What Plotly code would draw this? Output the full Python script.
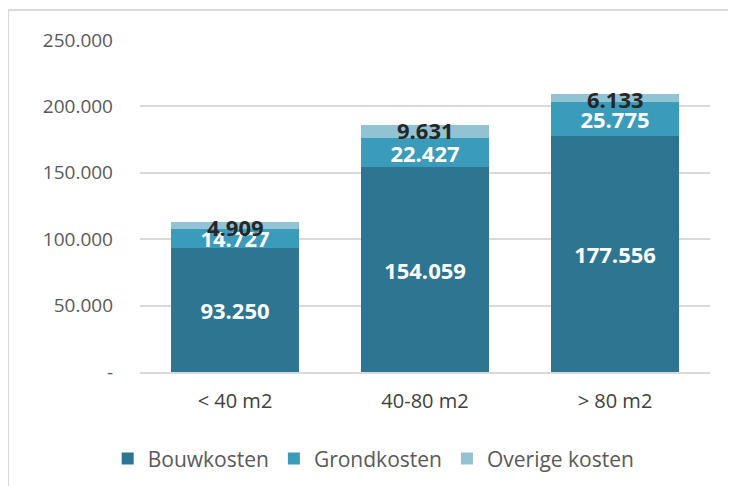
import plotly.graph_objects as go

categories = ["< 40 m2", "40-80 m2", "> 80 m2"]
bouwkosten = [93250, 154059, 177556]
grondkosten = [14727, 22427, 25775]
overige = [4909, 9631, 6133]
tick_vals = [0, 50000, 100000, 150000, 200000, 250000]
tick_text = ["-", "50.000", "100.000", "150.000", "200.000", "250.000"]

def fmt(v):
    return f"{v:,}".replace(",", ".")

C_BOUW = "#2E7591"
C_GROND = "#3A9BBA"
C_OVER = "#92C3D5"
FONT = "Open Sans"
LBL = 22

fig = go.Figure()
fig.add_trace(go.Bar(
    x=categories, y=bouwkosten, name="Bouwkosten", marker_color=C_BOUW,
    marker_line_width=0,
    text=[fmt(v) for v in bouwkosten], textposition="inside",
    insidetextanchor="middle", constraintext="none",
    textfont=dict(family=FONT, size=LBL, color="white", weight="bold"),
))
fig.add_trace(go.Bar(
    x=categories, y=grondkosten, name="Grondkosten", marker_color=C_GROND,
    marker_line_width=0,
    text=[fmt(v) for v in grondkosten], textposition="inside",
    insidetextanchor="middle", constraintext="none",
    textfont=dict(family=FONT, size=LBL, color="white", weight="bold"),
))
fig.add_trace(go.Bar(
    x=categories, y=overige, name="Overige kosten", marker_color=C_OVER,
    marker_line_width=0,
))

for c, b, g, o in zip(categories, bouwkosten, grondkosten, overige):
    fig.add_annotation(
        x=c, y=b + g + o, text=fmt(o), showarrow=False,
        yanchor="middle", yshift=-5,
        font=dict(family=FONT, size=LBL, color="#262626", weight="bold"),
    )

# page has an 8px body offset: plot area should land at x 140..710, y 40..372
OFF = 8
W, H = 736, 486
L, T = 140 - OFF, 40 - OFF
R = W - (710 - OFF)
B = H - (372 - OFF)
pw, ph = W - L - R, H - T - B
fig.add_shape(
    type="rect", xref="paper", yref="paper",
    x0=(8 - 140) / pw, x1=(760 - 140) / pw,
    y0=(372 - 500) / ph, y1=(372 - 10) / ph,
    line=dict(color="#D9D9D9", width=2), fillcolor="rgba(0,0,0,0)",
    layer="below",
)

fig.update_layout(
    width=W, height=H,
    barmode="stack", bargap=0.33,
    margin=dict(l=L, r=R, t=T, b=B),
    paper_bgcolor="white", plot_bgcolor="white",
    font=dict(family=FONT, size=19, color="#595959"),
    xaxis=dict(
        showgrid=False, showline=True, linecolor="#D9D9D9", linewidth=1.5,
        ticks="", tickfont=dict(size=20, color="#404040"),
        ticklabelstandoff=10,
    ),
    yaxis=dict(
        range=[0, 250000], tickvals=tick_vals, ticktext=tick_text,
        showgrid=True, gridcolor="#D9D9D9", gridwidth=1.5,
        zeroline=False, ticks="", ticklabelstandoff=26,
        tickfont=dict(size=19, color="#595959"),
    ),
    legend=dict(
        orientation="h", x=0.41, xanchor="center", y=-0.2, yanchor="top",
        font=dict(size=21, color="#595959"), traceorder="normal",
        itemwidth=30,
    ),
    showlegend=True,
)

fig.write_html("out.html")
